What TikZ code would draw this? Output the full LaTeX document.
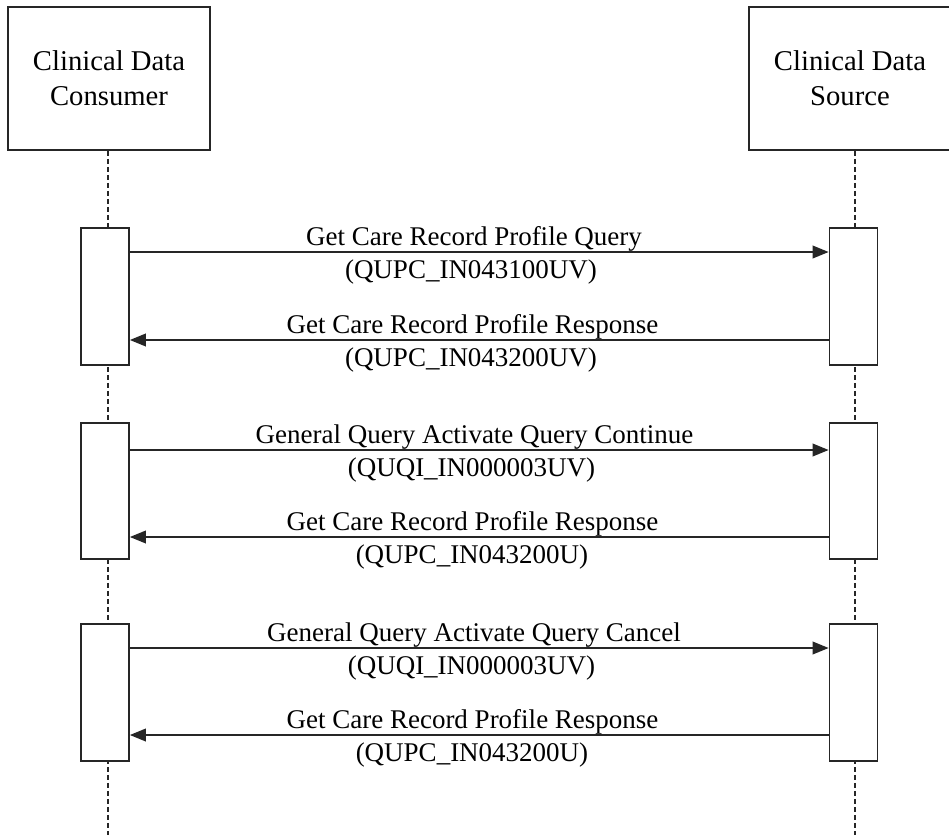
\documentclass[tikz,border=0pt]{standalone}
\usepackage{fontspec}
\setmainfont{Liberation Serif}
\usetikzlibrary{arrows.meta}

\tikzset{
  rolebox/.style={draw=black!85, line width=1.3pt, minimum width=151.5pt, minimum height=107.25pt,
    align=center, inner sep=0pt, font=\fontsize{21.5}{26}\selectfont},
  actbox/.style={draw=black!85, fill=white, line width=1.3pt, minimum width=36pt,
    minimum height=102.75pt, inner sep=0pt},
  lifeline/.style={draw=black!85, line width=1pt, dash pattern=on 3.75pt off 2.25pt},
  msg/.style={draw=black!85, line width=1.2pt, -{Triangle[length=12pt,width=9.5pt]}},
  msgtext/.style={anchor=base, inner sep=0pt, font=\fontsize{20.25}{24}\selectfont},
}

\begin{document}
\begin{tikzpicture}[x=0.75pt,y=0.75pt,yscale=-1,xscale=1]
\useasboundingbox (0,0) rectangle (949,835);
% roles
\node[rolebox] (con) at (109,78.5) {Clinical Data\\Consumer};
\node[rolebox] (src) at (850,78.5) {Clinical Data\\Source};
\coordinate (conEnd) at (108,835);
\coordinate (srcEnd) at (855,835);
% lifelines
\draw[lifeline] (conEnd |- con.south) -- (conEnd);
\draw[lifeline] (srcEnd |- src.south) -- (srcEnd);
% activations
\node[actbox] (con1) at (105,296.5) {};
\node[actbox] (src1) at (853.5,296.5) {};
\node[actbox, minimum height=102pt] (con2) at (105,491) {};
\node[actbox, minimum height=102pt] (src2) at (853.5,491) {};
\node[actbox] (con3) at (105,692.5) {};
\node[actbox] (src3) at (853.5,692.5) {};
% messages
\coordinate (m1) at (473,252);
\coordinate (m2) at (473,340);
\coordinate (m3) at (473,450);
\coordinate (m4) at (473,537);
\coordinate (m5) at (473,648);
\coordinate (m6) at (473,735);
\draw[msg] (con1.east |- m1) -- (src1.west |- m1);
\draw[msg] (src1.west |- m2) -- (con1.east |- m2);
\draw[msg] (con2.east |- m3) -- (src2.west |- m3);
\draw[msg] (src2.west |- m4) -- (con2.east |- m4);
\draw[msg] (con3.east |- m5) -- (src3.west |- m5);
\draw[msg] (src3.west |- m6) -- (con3.east |- m6);
\node[msgtext] (t1) at (474,245) {Get Care Record Profile Query};
\node[msgtext] (c1) at (471,278) {(QUPC\_IN043100UV)};
\node[msgtext] (t2) at (472.5,333) {Get Care Record Profile Response};
\node[msgtext] (c2) at (471,366) {(QUPC\_IN043200UV)};
\node[msgtext] (t3) at (474.5,443) {General Query Activate Query Continue};
\node[msgtext] (c3) at (471.5,476) {(QUQI\_IN000003UV)};
\node[msgtext] (t4) at (472.5,530) {Get Care Record Profile Response};
\node[msgtext] (c4) at (472,563) {(QUPC\_IN043200U)};
\node[msgtext] (t5) at (474,641) {General Query Activate Query Cancel};
\node[msgtext] (c5) at (471.5,674) {(QUQI\_IN000003UV)};
\node[msgtext] (t6) at (472.5,728) {Get Care Record Profile Response};
\node[msgtext] (c6) at (472,761) {(QUPC\_IN043200U)};
\end{tikzpicture}
\end{document}
